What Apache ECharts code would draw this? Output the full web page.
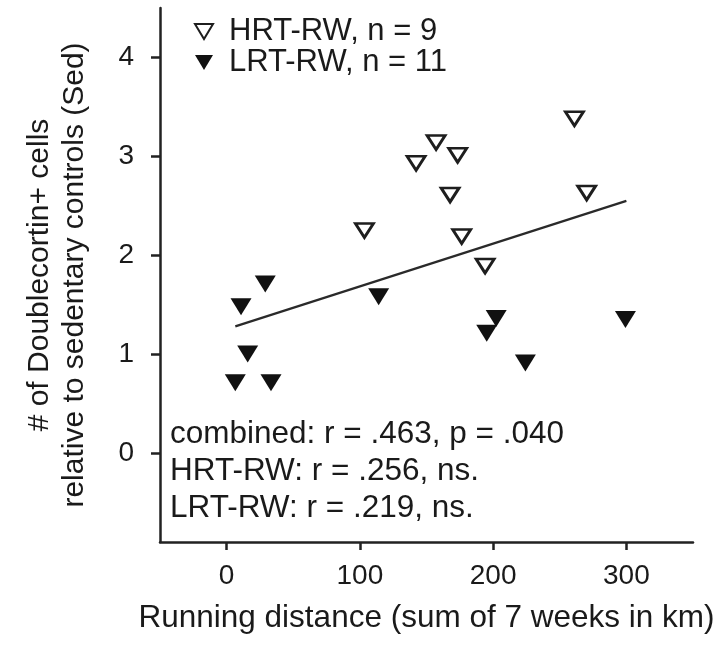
<!DOCTYPE html>
<html>
<head>
<meta charset="utf-8">
<script src="https://cdn.jsdelivr.net/npm/echarts@6/dist/echarts.min.js"></script>
<style>
  html, body { margin: 0; padding: 0; background: #fff; }
  #chart { width: 725px; height: 648px; }
</style>
</head>
<body>
<div id="chart"></div>
<script>
// ---- data ----
const xTickValues = [0, 100, 200, 300];
const yTickValues = [0, 1, 2, 3, 4];
const hrtName = 'HRT-RW, n = 9';
const lrtName = 'LRT-RW, n = 11';
const hrtPoints = [[103.4, 2.25], [142.2, 2.93], [157.2, 3.14], [173.4, 3.01], [167.7, 2.61],
                   [176.4, 2.19], [194.0, 1.89], [261.0, 3.38], [270.2, 2.63]];
const lrtPoints = [[6.5, 0.71], [33.3, 0.71], [15.8, 1.00], [10.8, 1.48], [29.0, 1.71],
                   [114.1, 1.58], [195.2, 1.21], [202.3, 1.36], [224.2, 0.91], [299.3, 1.35]];
const fitLine = [[6.5, 1.28], [300, 2.55]];
const statsText = ['combined: r = .463, p = .040', 'HRT-RW: r = .256, ns.', 'LRT-RW: r = .219, ns.'];
const xTitle = 'Running distance (sum of 7 weeks in km)';
const yTitle = '# of Doublecortin+ cells\nrelative to sedentary controls (Sed)';

const FONT = '"Liberation Sans", Arial, Helvetica, sans-serif';
const INK = '#1a1a1a';
const downTri = 'path://M0,0 L20,0 L10,17 Z';

const chart = echarts.init(document.getElementById('chart'));
chart.setOption({
  animation: false,
  backgroundColor: '#fff',
  textStyle: { fontFamily: FONT, color: INK },
  grid: { left: 160, right: 32, top: 8, bottom: 106, containLabel: false },
  legend: {
    orient: 'vertical',
    left: 189, top: 11,
    itemWidth: 18, itemHeight: 15, itemGap: 0,
    symbolKeepAspect: false,
    textStyle: { fontFamily: FONT, fontSize: 31, color: INK, padding: [0, 0, 0, 11] },
    data: [{ name: hrtName, icon: downTri }, { name: lrtName, icon: downTri }]
  },
  xAxis: {
    type: 'value', min: -50, max: 350,
    name: xTitle, nameLocation: 'middle', nameGap: 60,
    nameTextStyle: { fontFamily: FONT, fontSize: 31.5, color: INK },
    axisLine: { show: true, onZero: false, lineStyle: { color: '#222', width: 2.5 } },
    axisTick: { show: true, length: 8, customValues: xTickValues, lineStyle: { color: '#222', width: 2.5 } },
    axisLabel: { customValues: xTickValues, fontFamily: FONT, fontSize: 28, color: INK, margin: 20 },
    splitLine: { show: false }
  },
  yAxis: {
    type: 'value', min: -0.9, max: 4.5,
    name: yTitle, nameLocation: 'middle', nameGap: 68, nameRotate: 90,
    nameTextStyle: { fontFamily: FONT, fontSize: 30, color: INK, lineHeight: 35 },
    axisLine: { show: true, onZero: false, lineStyle: { color: '#222', width: 2.5 } },
    axisTick: { show: true, length: 9, customValues: yTickValues, lineStyle: { color: '#222', width: 2.5 } },
    axisLabel: { customValues: yTickValues, fontFamily: FONT, fontSize: 28, color: INK, margin: 26 },
    splitLine: { show: false }
  },
  series: [
    {
      name: 'fit', type: 'line', data: fitLine, symbol: 'none', silent: true,
      lineStyle: { color: '#2a2a2a', width: 2.2 }, z: 1
    },
    {
      name: hrtName, type: 'scatter', data: hrtPoints,
      symbol: 'triangle', symbolRotate: 180, symbolSize: [18, 14],
      itemStyle: { color: '#fff', borderColor: '#1e1e1e', borderWidth: 2.8, opacity: 1 }, z: 3
    },
    {
      name: lrtName, type: 'scatter', data: lrtPoints,
      symbol: 'triangle', symbolRotate: 180, symbolSize: [21, 17],
      itemStyle: { color: '#111', borderWidth: 0, opacity: 1 }, z: 3
    }
  ],
  graphic: statsText.map((t, i) => ({
    type: 'text', left: 170, top: 418 + i * 37,
    style: { text: t, font: '31.5px ' + FONT, fill: INK }
  }))
});
</script>
</body>
</html>
